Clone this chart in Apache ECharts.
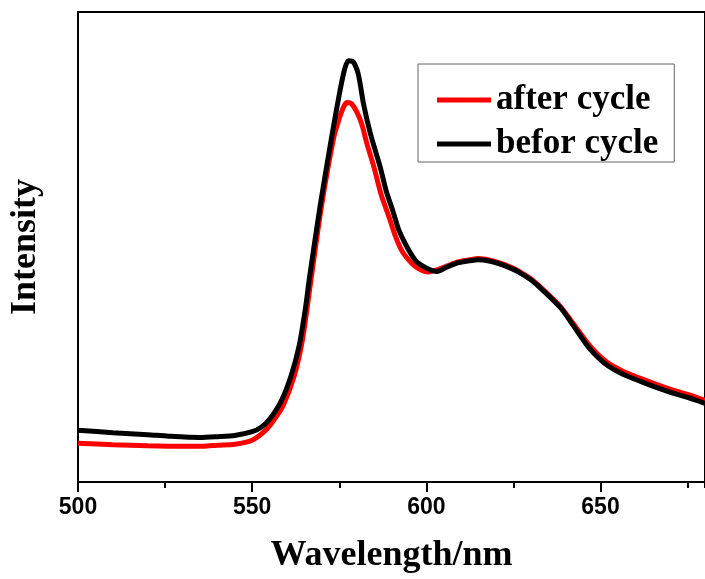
<!DOCTYPE html>
<html>
<head>
<meta charset="utf-8">
<script src="https://cdn.jsdelivr.net/npm/echarts@6/dist/echarts.min.js"></script>
<style>html,body{margin:0;padding:0;background:#fff}#c{width:705px;height:579px}</style>
</head>
<body>
<div id="c"></div>
<script>
var seriesNames = ['after cycle', 'befor cycle'];
var xTickLabels = [500, 550, 600, 650];

var afterWavelength = [500,510,520,530,536,540,545,550,553.6,556,558.8,562.1,564.5,566.8,569.9,573.3,574.9,576.3,577.3,578.5,580,581.5,583,584.9,587,589.5,591,593,596,598,600.5,603,606,609,612,615,618,621,624,626.4,630,633,636,638.8,642,646.4,649,652,656,661.5,666,671,675,680];
var afterIntensity = [39,37.5,36.5,36,36,37,38,42,51,61,76,107,144,201,277,344,364,377,381,380,372,359,339,317,289,264,248,232,219,214,211,213,217,221,223,224.5,223,220,216,212,204,195,185,175,160,139,129,120,112,104,98,92,88,82];

var beforWavelength = [500,510,520,526,535,540,545,550,552.6,555,558.3,561.2,563.5,565.4,566.4,569.5,572.7,575,576.5,577.6,579,580.5,582,584,586.7,588.5,590.5,592,594.3,597,600,603,606,609,612,615,618,621,624,626.4,630,633,636,638.8,642,646.4,649,652,656,661.5,666,671,675,680];
var beforIntensity = [52,49.5,47.5,46,44.7,45.5,46.7,50.5,55,63,81,107,137,177,204,277,344,389,414,423,422,409,379,349,317,292,271,254,237,222,215,211.5,216,220,222,223.3,222,219,215,211,203,194,184,174,158,136,126,117,109,101,95,89,85,79];

function pairs(xs, ys){ return xs.map(function(x,i){ return [x, ys[i]]; }); }

var chart = echarts.init(document.getElementById('c'), null, {renderer:'canvas'});
chart.setOption({
  animation: false,
  backgroundColor: '#fff',
  grid: { left: 77, top: 12, bottom: 95, right: -7, show: true, borderColor: '#000', borderWidth: 2, containLabel: false },
  legend: {
    left: 418, top: 64, orient: 'vertical',
    padding: [18, 16, 0, 19],
    itemGap: 8, itemWidth: 54, itemHeight: 5, icon: 'rect',
    borderColor: '#666', borderWidth: 1, backgroundColor: '#fff',
    textStyle: { fontFamily: 'Liberation Serif', fontWeight: 'bold', fontSize: 35, color: '#000', lineHeight: 36 },
    data: seriesNames
  },
  xAxis: [{
    type: 'value', min: 500, max: 680, interval: 50,
    name: 'Wavelength/nm', nameLocation: 'middle', nameGap: 56,
    nameTextStyle: { fontFamily: 'Liberation Serif', fontWeight: 'bold', fontSize: 36, color: '#000' },
    axisLine: { show: true, onZero: false, lineStyle: { color: '#000', width: 2 } },
    axisTick: { show: true, length: 10, lineStyle: { color: '#000', width: 2 } },
    axisLabel: { show: true, margin: 14, showMaxLabel: false, fontFamily: 'Liberation Sans', fontWeight: 'bold', fontSize: 23, color: '#000',
      formatter: function(v){ return xTickLabels.indexOf(v) >= 0 ? String(v) : ''; } },
    splitLine: { show: false }
  }, {
    type: 'value', min: 500, max: 680, interval: 25, position: 'bottom', offset: 0,
    axisLine: { show: false }, axisLabel: { show: false },
    axisTick: { show: true, length: 6, lineStyle: { color: '#000', width: 2 } },
    splitLine: { show: false }
  }],
  yAxis: {
    type: 'value', min: 0, max: 472,
    name: 'Intensity', nameLocation: 'middle', nameGap: 34, nameRotate: 90,
    nameTextStyle: { fontFamily: 'Liberation Serif', fontWeight: 'bold', fontSize: 36, color: '#000' },
    axisLine: { show: true, onZero: false, lineStyle: { color: '#000', width: 2 } },
    axisTick: { show: false }, axisLabel: { show: false }, splitLine: { show: false }
  },
  series: [{
    name: seriesNames[0], type: 'line', xAxisIndex: 0, data: pairs(afterWavelength, afterIntensity),
    showSymbol: false, symbol: 'none', smooth: 0.25, color: '#ff0000',
    lineStyle: { color: '#ff0000', width: 5 }, itemStyle: { color: '#ff0000' }, z: 2
  }, {
    name: seriesNames[1], type: 'line', xAxisIndex: 0, data: pairs(beforWavelength, beforIntensity),
    showSymbol: false, symbol: 'none', smooth: 0.25, color: '#000',
    lineStyle: { color: '#000', width: 5 }, itemStyle: { color: '#000' }, z: 3
  }]
});
</script>
</body>
</html>
